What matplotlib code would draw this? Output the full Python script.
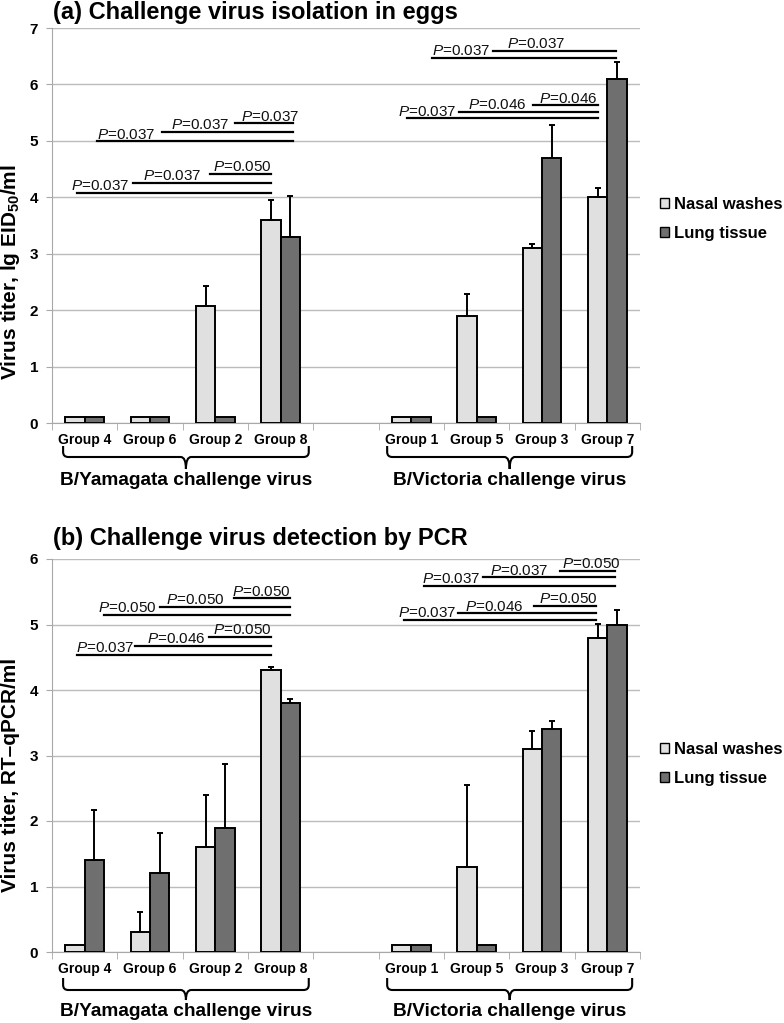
import matplotlib
matplotlib.use('Agg')
import matplotlib.pyplot as plt
from matplotlib.patches import Patch, PathPatch
from matplotlib.path import Path
import numpy as np

plt.rcParams['font.family'] = ['Liberation Sans', 'DejaVu Sans']
plt.rcParams['mathtext.fontset'] = 'custom'
plt.rcParams['mathtext.rm'] = 'Liberation Sans'
plt.rcParams['mathtext.it'] = 'Liberation Sans:italic'
plt.rcParams['mathtext.bf'] = 'Liberation Sans:bold'

# data
groups = ['Group 4', 'Group 6', 'Group 2', 'Group 8', 'Group 1', 'Group 5', 'Group 3', 'Group 7']
virus_sets = ['B/Yamagata challenge virus', 'B/Victoria challenge virus']
series = ['Nasal washes', 'Lung tissue']

nasal_a = [0.1, 0.1, 2.07, 3.6, 0.1, 1.9, 3.1, 4.0]
nasal_a_err = [0, 0, 0.35, 0.35, 0, 0.39, 0.07, 0.17]
lung_a = [0.1, 0.1, 0.1, 3.3, 0.1, 0.1, 4.7, 6.1]
lung_a_err = [0, 0, 0, 0.72, 0, 0, 0.58, 0.29]

nasal_b = [0.1, 0.3, 1.6, 4.3, 0.1, 1.3, 3.1, 4.8]
nasal_b_err = [0, 0.31, 0.8, 0.05, 0, 1.25, 0.28, 0.21]
lung_b = [1.4, 1.2, 1.9, 3.8, 0.1, 0.1, 3.4, 5.0]
lung_b_err = [0.77, 0.62, 0.97, 0.07, 0, 0, 0.13, 0.22]

# P-value brackets: (x start, x end, y, label x, p)
pvals_a = [(-0.12, 2.85, 4.08, -0.21, '0.037'), (0.74, 2.85, 4.26, 0.89, '0.037'),
           (1.92, 2.85, 4.42, 1.96, '0.050'),
           (0.19, 3.19, 4.99, 0.19, '0.037'), (1.18, 3.19, 5.16, 1.32, '0.037'),
           (2.30, 3.19, 5.31, 2.39, '0.037'),
           (4.93, 7.86, 5.40, 4.79, '0.037'), (5.73, 7.86, 5.52, 5.86, '0.046'),
           (6.86, 7.86, 5.63, 6.96, '0.046'),
           (5.31, 8.14, 6.47, 5.31, '0.037'), (6.25, 8.14, 6.60, 6.46, '0.037')]
pvals_b = [(-0.11, 2.85, 4.54, -0.13, '0.037'), (0.77, 2.85, 4.67, 0.95, '0.046'),
           (1.91, 2.85, 4.81, 1.97, '0.050'),
           (0.29, 3.14, 5.15, 0.21, '0.050'), (1.15, 3.14, 5.27, 1.24, '0.050'),
           (2.28, 3.14, 5.40, 2.26, '0.050'),
           (4.89, 7.83, 5.07, 4.79, '0.037'), (5.72, 7.83, 5.17, 5.82, '0.046'),
           (6.87, 7.83, 5.28, 6.96, '0.050'),
           (5.20, 8.12, 5.59, 5.17, '0.037'), (6.10, 8.12, 5.72, 6.20, '0.037'),
           (7.28, 8.12, 5.82, 7.30, '0.050')]

light = '#e0e0e0'
dark = '#6f6f6f'
gridc = '#bcbcbc'

fig = plt.figure(figsize=(7.84, 10.23), dpi=100)
ax_a = fig.add_axes([52 / 784, 1 - 423 / 1023, 588 / 784, 395 / 1023])
ax_b = fig.add_axes([52 / 784, 1 - 952 / 1023, 588 / 784, 393 / 1023])

pos = np.array([0, 1, 2, 3, 5, 6, 7, 8])
w = 0.295


def brace(ax, x0, x1, offs, label):
    h = ax.get_position().height * fig.get_figheight() * fig.dpi
    yt, ym, ytip, ytxt = [-o / h for o in offs]
    r = 5 / h
    rx = 0.08
    xc = (x0 + x1) / 2
    verts = [(x0, yt), (x0, ym + r), (x0, ym), (x0 + rx, ym), (xc - rx, ym), (xc, ym),
             (xc, ytip), (xc, ym), (xc + rx, ym), (x1 - rx, ym), (x1, ym), (x1, ym + r), (x1, yt)]
    codes = [Path.MOVETO, Path.LINETO, Path.CURVE3, Path.CURVE3, Path.LINETO, Path.CURVE3,
             Path.CURVE3, Path.CURVE3, Path.CURVE3, Path.LINETO, Path.CURVE3, Path.CURVE3, Path.LINETO]
    ax.add_patch(PathPatch(Path(verts, codes), transform=ax.get_xaxis_transform(),
                           fill=False, lw=1.5, edgecolor='black', clip_on=False))
    ax.text(xc, ytxt, label, transform=ax.get_xaxis_transform(), ha='center', va='center',
            fontsize=13.8, fontweight='bold')


def panel(ax, nasal, nasal_err, lung, lung_err, ymax, pvals, offs):
    nasal, lung = np.array(nasal), np.array(lung)
    nasal_err, lung_err = np.array(nasal_err), np.array(lung_err)
    ax.bar(pos - w / 2, nasal, w, color=light, edgecolor='black', lw=1.4, zorder=3)
    ax.bar(pos + w / 2, lung, w, color=dark, edgecolor='black', lw=1.4, zorder=3)
    for x, v, e in [(pos - w / 2, nasal, nasal_err), (pos + w / 2, lung, lung_err)]:
        m = e > 0
        ax.errorbar(x[m], v[m], yerr=[np.zeros(m.sum()), e[m]], fmt='none', ecolor='black',
                    elinewidth=1.4, capsize=2.2, capthick=1.4, zorder=4)
    ax.set_xlim(-0.5, 8.5)
    ax.set_ylim(0, ymax)
    ax.set_yticks(range(ymax + 1))
    ax.grid(axis='y', color=gridc, lw=1, zorder=0)
    ax.set_axisbelow(True)
    for s in ['top', 'right']:
        ax.spines[s].set_visible(False)
    for s in ['left', 'bottom']:
        ax.spines[s].set_color('#a8a8a8')
    ax.tick_params(axis='y', length=4, color='#a8a8a8', pad=6, labelsize=11)
    for t in ax.get_yticklabels():
        t.set_fontweight('bold')
    ax.set_xticks(pos, groups, fontsize=10, fontweight='bold')
    ax.set_xticks(np.arange(-0.5, 9, 1), minor=True)
    ax.tick_params(axis='x', which='major', length=0, pad=7)
    ax.tick_params(axis='x', which='minor', length=5, color='#a8a8a8')
    for x0, x1, y, tx, p in pvals:
        ax.plot([x0, x1], [y, y], color='black', lw=1.6, zorder=5, clip_on=False)
        ax.annotate('$P$=' + p, (tx, y), xytext=(0, 2), textcoords='offset points',
                    va='baseline', ha='left', fontsize=11, color='#111111')
    brace(ax, -0.33, 3.43, offs, virus_sets[0])
    brace(ax, 4.63, 8.38, offs, virus_sets[1])


panel(ax_a, nasal_a, nasal_a_err, lung_a, lung_a_err, 7, pvals_a, (23, 34, 46, 57))
panel(ax_b, nasal_b, nasal_b_err, lung_b, lung_b_err, 6, pvals_b, (26, 38, 48, 60))

fig.text(53 / 784, 1 - 12 / 1023, '(a) Challenge virus isolation in eggs', fontsize=17,
         fontweight='bold', va='center', ha='left')
fig.text(53 / 784, 1 - 538 / 1023, '(b) Challenge virus detection by PCR', fontsize=17,
         fontweight='bold', va='center', ha='left')
fig.text(11 / 784, 1 - 272 / 1023, r'Virus titer, lg EID$_\mathbf{50}$/ml', rotation=90,
         fontsize=15, fontweight='bold', va='center', ha='center')
fig.text(11 / 784, 1 - 775 / 1023, 'Virus titer, RT\u2013qPCR/ml', rotation=90,
         fontsize=15, fontweight='bold', va='center', ha='center')

handles = [Patch(facecolor=light, edgecolor='black', lw=1),
           Patch(facecolor=dark, edgecolor='black', lw=1)]
for ax, top in [(ax_a, 197), (ax_b, 742)]:
    ax.legend(handles, series, loc='upper left', bbox_to_anchor=(660 / 784, 1 - top / 1023),
              bbox_transform=fig.transFigure, frameon=False, handlelength=0.55,
              handleheight=0.55, handletextpad=0.3, labelspacing=0.85, borderpad=0,
              borderaxespad=0, prop={'weight': 'bold', 'size': 12})

fig.savefig('out.png', dpi=100)
